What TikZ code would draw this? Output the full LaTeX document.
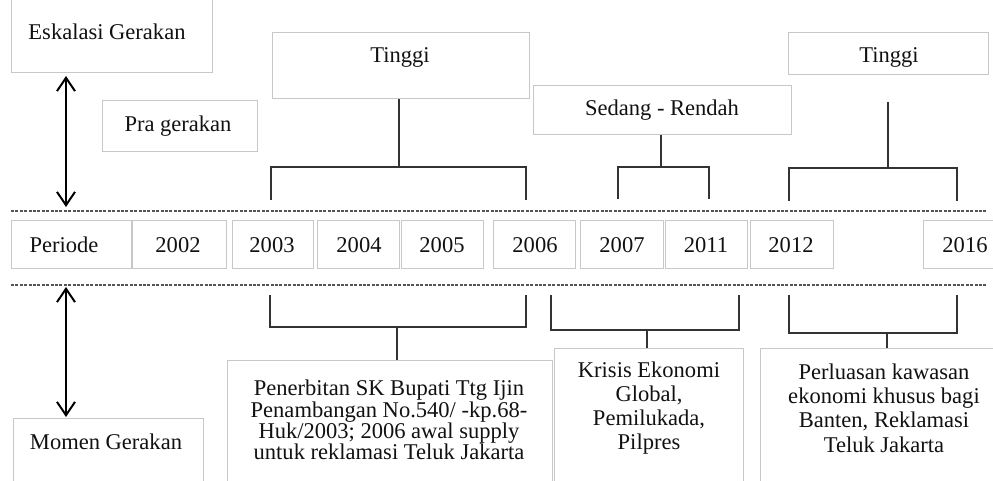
\documentclass[tikz,border=0pt]{standalone}
\usepackage{fontspec}
\setmainfont{Liberation Serif}
\usetikzlibrary{arrows.meta,fit}
\definecolor{boxc}{HTML}{C8C8C8}
\definecolor{brkc}{HTML}{333333}
\definecolor{dashc}{HTML}{555555}
\definecolor{txtc}{HTML}{111111}
\begin{document}
\begin{tikzpicture}[x=0.75pt,y=-0.75pt,
 box/.style={draw=boxc,line width=0.75pt,inner sep=0pt},
 txt/.style={font=\fontsize{16.9pt}{17pt}\selectfont,text=txtc,inner sep=0pt,align=center},
 mtxtA/.style={font=\fontsize{16.9pt}{16pt}\selectfont,text=txtc,inner sep=0pt,align=center},
 mtxtB/.style={font=\fontsize{16.9pt}{18.2pt}\selectfont,text=txtc,inner sep=0pt,align=center},
 brk/.style={draw=brkc,line width=1.5pt},
 sep/.style={draw=dashc,line width=1.1pt,dash pattern=on 2.2pt off 1.1pt},
 dbl/.style={draw=black,line width=1.5pt,>={Straight Barb[length=10pt,width=13.5pt]},<->}]
\useasboundingbox (0,0) rectangle (993,481);
\clip (0,0) rectangle (993,481);
% upper level boxes
\node[box,fit={(11,-2)(212,73)}] (esk) {};
\node[txt] (eskT) at (107,32) {Eskalasi Gerakan};
\node[box,fit={(102,101)(257,152)}] (pra) {};
\node[txt] (praT) at (178,126) {Pra gerakan};
\node[box,fit={(272,33)(529,99)}] (tA) {};
\node[txt] (tAT) at (400,57) {Tinggi};
\node[box,fit={(533,86)(791,135)}] (sr) {};
\node[txt] (srT) at (662,110) {Sedang - Rendah};
\node[box,fit={(788,33)(988,75)}] (tB) {};
\node[txt] (tBT) at (889,57) {Tinggi};
% separators
\draw[sep] (11,211) -- (987,211);
\draw[sep] (11,285) -- (987,285);
% period row
\node[box,fit={(11,221)(131,269)}] (per) {};
\node[txt] (perT) at (64,245) {Periode};
\node[box,fit={(132,221)(226,269)}] (y02) {};
\node[txt] (y02T) at (178,245) {2002};
\node[box,fit={(232,221)(313,269)}] (y03) {};
\node[txt] (y03T) at (272,245) {2003};
\node[box,fit={(317,221)(399,269)}] (y04) {};
\node[txt] (y04T) at (359,245) {2004};
\node[box,fit={(401,221)(483,269)}] (y05) {};
\node[txt] (y05T) at (442,245) {2005};
\node[box,fit={(493,221)(575,269)}] (y06) {};
\node[txt] (y06T) at (535,245) {2006};
\node[box,fit={(580,221)(663,269)}] (y07) {};
\node[txt] (y07T) at (622,245) {2007};
\node[box,fit={(665,221)(747,269)}] (y11) {};
\node[txt] (y11T) at (706,245) {2011};
\node[box,fit={(750,221)(833,269)}] (y12) {};
\node[txt] (y12T) at (791,245) {2012};
\node[box,fit={(923,221)(1005,269)}] (y16) {};
\node[txt] (y16T) at (965,245) {2016};
% double arrows
\coordinate (aT1) at (66,76);
\coordinate (aT2) at (66,207);
\coordinate (aB1) at (66,287);
\coordinate (aB2) at (66,417);
\draw[dbl] (aT1) -- (aT2);
\draw[dbl] (aB1) -- (aB2);
% momen box
\node[box,fit={(13,418)(203,495)}] (mom) {};
\node[txt] (momT) at (106,442) {Momen Gerakan};
% top brackets
\coordinate (bA) at (399,167);
\draw[brk] (tA.south -| bA) -- (bA);
\draw[brk] (271,200) -- (271,167) -- (526,167) -- (526,200);
\coordinate (bS) at (661,167);
\draw[brk] (sr.south -| bS) -- (bS);
\draw[brk] (618,199) -- (618,167) -- (709,167) -- (709,199);
\coordinate (bTt) at (888,102);
\coordinate (bT) at (888,168);
\draw[brk] (bTt) -- (bT);
\draw[brk] (789,201) -- (789,168) -- (957,168) -- (957,201);
% bottom boxes
\node[box,fit={(227,360)(552,495)}] (m1) {};
\node[mtxtA] (m1T) at (389,420) {Penerbitan SK Bupati Ttg Ijin\\Penambangan No.540/ -kp.68-\\Huk/2003; 2006 awal supply\\untuk reklamasi Teluk Jakarta};
\node[box,fit={(554,348)(743,495)}] (m2) {};
\node[mtxtB] (m2T) at (649,408) {Krisis Ekonomi\\Global,\\Pemilukada,\\Pilpres};
\node[box,fit={(760,348)(1000,495)}] (m3) {};
\node[mtxtB] (m3T) at (884,408) {Perluasan kawasan\\ekonomi khusus bagi\\Banten, Reklamasi\\Teluk Jakarta};
% bottom brackets
\coordinate (c1) at (397,327);
\draw[brk] (270,295) -- (270,327) -- (526,327) -- (526,295);
\draw[brk] (c1) -- (m1.north -| c1);
\coordinate (c2) at (647,330);
\draw[brk] (551,295) -- (551,330) -- (739,330) -- (739,295);
\draw[brk] (c2) -- (m2.north -| c2);
\coordinate (c3) at (887,333);
\draw[brk] (789,295) -- (789,333) -- (957,333) -- (957,295);
\draw[brk] (c3) -- (m3.north -| c3);
\end{tikzpicture}
\end{document}
